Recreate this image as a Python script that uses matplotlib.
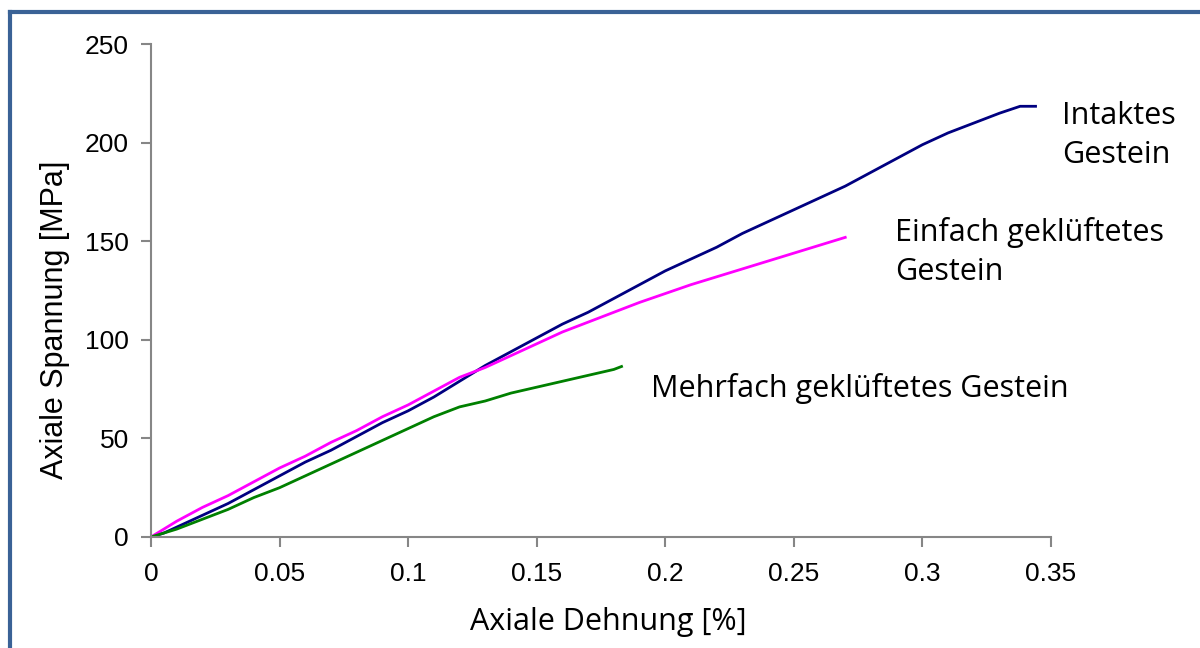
import matplotlib.pyplot as plt
from matplotlib.lines import Line2D

# strain [%] / stress [MPa]
intakt_x = [0, 0.005, 0.01, 0.02, 0.03, 0.04, 0.05, 0.06, 0.07, 0.08, 0.09, 0.1,
            0.11, 0.12, 0.13, 0.14, 0.15, 0.16, 0.17, 0.18, 0.19, 0.2, 0.21,
            0.22, 0.23, 0.24, 0.25, 0.26, 0.27, 0.28, 0.29, 0.3, 0.31, 0.32,
            0.33, 0.338, 0.344]
intakt_y = [0, 2, 5, 11, 17, 24, 31, 38, 44, 51, 58, 64,
            71, 79, 87, 94, 101, 108, 114, 121, 128, 135, 141,
            147, 154, 160, 166, 172, 178, 185, 192, 199, 205, 210,
            215, 218.5, 218.5]

einfach_x = [0, 0.005, 0.01, 0.02, 0.03, 0.04, 0.05, 0.06, 0.07, 0.08, 0.09, 0.1,
             0.11, 0.12, 0.13, 0.14, 0.15, 0.16, 0.17, 0.18, 0.19, 0.2, 0.21,
             0.22, 0.23, 0.24, 0.25, 0.26, 0.27]
einfach_y = [0, 4, 8, 15, 21, 28, 35, 41, 48, 54, 61, 67,
             74, 81, 86, 92, 98, 104, 109, 114, 119, 123.5, 128,
             132, 136, 140, 144, 148, 152]

mehrfach_x = [0, 0.005, 0.01, 0.02, 0.03, 0.04, 0.05, 0.06, 0.07, 0.08, 0.09, 0.1,
              0.11, 0.12, 0.13, 0.14, 0.15, 0.16, 0.17, 0.18, 0.183]
mehrfach_y = [0, 2, 4, 9, 14, 20, 25, 31, 37, 43, 49, 55,
              61, 66, 69, 73, 76, 79, 82, 85, 86.5]

xticks = [0, 0.05, 0.1, 0.15, 0.2, 0.25, 0.3, 0.35]
xticklabels = ['0', '0.05', '0.1', '0.15', '0.2', '0.25', '0.3', '0.35']
yticks = [0, 50, 100, 150, 200, 250]

calibri = ['Open Sans', 'DejaVu Sans']
arial = ['Liberation Sans', 'DejaVu Sans']

fig = plt.figure(figsize=(12, 6.48), dpi=100)
ax = fig.add_axes([0.1258, 0.1713, 0.75, 0.7605])

ax.plot(intakt_x, intakt_y, color='#000080', lw=2)
ax.plot(einfach_x, einfach_y, color='#FF00FF', lw=2)
ax.plot(mehrfach_x, mehrfach_y, color='#008000', lw=2)

ax.set_xlim(0, 0.35)
ax.set_ylim(0, 250)
ax.set_xticks(xticks)
ax.set_xticklabels(xticklabels, family=arial, fontsize=19)
ax.set_yticks(yticks)
ax.set_yticklabels([str(v) for v in yticks], family=arial, fontsize=19)
ax.tick_params(colors='#868686', labelcolor='black', length=7, width=1.5)
ax.tick_params(axis='x', pad=11)
ax.tick_params(axis='y', pad=9)

for s in ['top', 'right']:
    ax.spines[s].set_visible(False)
for s in ['left', 'bottom']:
    ax.spines[s].set_color('#868686')
    ax.spines[s].set_linewidth(1.5)

ax.set_xlabel('Axiale Dehnung [%]', family=calibri, fontsize=22, va='center')
ax.xaxis.set_label_coords(0.508, -0.1726)
ax.set_ylabel('Axiale Spannung [MPa]', family=arial, fontsize=22, va='center')
ax.yaxis.set_label_coords(-0.1067, 0.4406)

ax.text(0.3543, 203.6, 'Intaktes\nGestein', family=calibri, fontsize=22,
        va='center', ha='left', linespacing=1.4)
ax.text(0.2893, 144.4, 'Einfach geklüftetes\nGestein', family=calibri, fontsize=22,
        va='center', ha='left', linespacing=1.4)
ax.text(0.1944, 75.4, 'Mehrfach geklüftetes Gestein', family=calibri, fontsize=22,
        va='center', ha='left')

# frame around the chart
fc = '#3A6296'
fig.add_artist(Line2D([9.5 / 1200, 9.5 / 1200], [0, 1 - 12 / 648], color=fc, lw=3,
                      transform=fig.transFigure, solid_capstyle='projecting'))
fig.add_artist(Line2D([9.5 / 1200, 1], [1 - 12 / 648, 1 - 12 / 648], color=fc, lw=3,
                      transform=fig.transFigure, solid_capstyle='projecting'))

fig.savefig('out.png', dpi=100)
